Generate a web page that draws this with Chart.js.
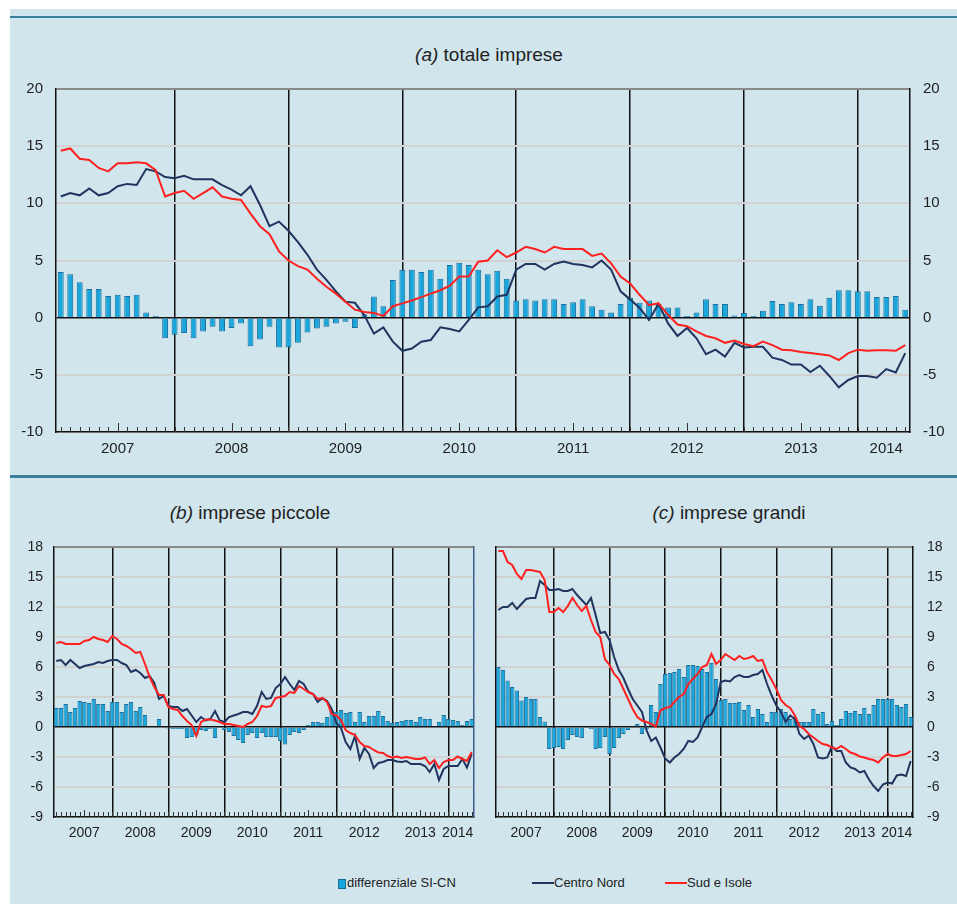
<!DOCTYPE html>
<html>
<head>
<meta charset="utf-8">
<script src="https://cdn.jsdelivr.net/npm/chart.js@4.4.0/dist/chart.umd.min.js"></script>
<style>
  body { margin: 0; background: #fff; }
  #page { position: relative; width: 957px; height: 904px; overflow: hidden; font-family: 'Liberation Sans', Arial, sans-serif; color: #222; }
  #bg { position: absolute; left: 10px; top: 9px; width: 947px; height: 895px; background: #d0e5ec; }
  .rule { position: absolute; left: 10px; width: 947px; background: #3a7f9b; }
  .title { position: absolute; font-size: 19px; white-space: nowrap; transform: translateX(-50%); line-height: 22px; }
  canvas { position: absolute; }
  .leg { position: absolute; font-size: 13px; line-height: 16px; top: 875px; white-space: nowrap; }
  .sw { position: absolute; }
</style>
</head>
<body>
<div id="page">
  <div id="bg"></div>
  <div class="rule" style="top:16px;height:2px"></div>
  <div class="rule" style="top:475px;height:3px"></div>

  <div class="title" style="left:489px;top:44px"><i>(a)</i> totale imprese</div>
  <div class="title" style="left:250px;top:502px"><i>(b)</i> imprese piccole</div>
  <div class="title" style="left:729px;top:502px"><i>(c)</i> imprese grandi</div>

  <canvas id="chartA" width="947" height="392" style="left:10px;top:78px"></canvas>
  <canvas id="chartB" width="475" height="320" style="left:10px;top:535px"></canvas>
  <canvas id="chartC" width="472" height="320" style="left:485px;top:535px"></canvas>

  <div class="sw" style="left:338px;top:879px;width:6px;height:8px;background:#19a6dc;border:1px solid #1c6f99"></div>
  <div class="leg" style="left:347px">differenziale SI-CN</div>
  <div class="sw" style="left:532px;top:882px;width:22px;height:2px;background:#1f3560"></div>
  <div class="leg" style="left:554px">Centro Nord</div>
  <div class="sw" style="left:665px;top:882px;width:22px;height:2px;background:#ff2020"></div>
  <div class="leg" style="left:687px">Sud e Isole</div>
</div>

<script>
const years = ['2007', '2008', '2009', '2010', '2011', '2012', '2013', '2014'];
const monthNames = ['gen', 'feb', 'mar', 'apr', 'mag', 'giu', 'lug', 'ago', 'set', 'ott', 'nov', 'dic'];
const lastYearMonths = 6; // 2014: gen-giu

const categories = [];
years.forEach((y, k) => {
  const n = k === years.length - 1 ? lastYearMonths : 12;
  for (let m = 0; m < n; m++) categories.push(monthNames[m] + ' ' + y);
});

// (a) totale imprese
const aDiff = [4.0, 3.8, 3.1, 2.5, 2.5, 1.9, 2.0, 1.9, 2.0, 0.45, 0.15, -1.8,
  -1.5, -1.35, -1.8, -1.2, -0.8, -1.2, -0.9, -0.5, -2.5, -1.9, -0.8, -2.6,
  -2.6, -2.2, -1.3, -0.95, -0.8, -0.5, -0.35, -0.9, 0.3, 1.85, 1.0, 3.3,
  4.2, 4.2, 4.0, 4.2, 3.4, 4.6, 4.8, 4.6, 4.2, 3.8, 4.1, 3.4,
  1.5, 1.6, 1.5, 1.6, 1.6, 1.2, 1.35, 1.6, 1.0, 0.7, 0.45, 1.2,
  1.75, 1.3, 1.5, 1.2, 0.9, 0.9, 0.15, 0.45, 1.6, 1.2, 1.2, 0.2,
  0.4, 0.15, 0.6, 1.45, 1.2, 1.35, 1.2, 1.6, 1.05, 1.75, 2.4, 2.4,
  2.3, 2.3, 1.8, 1.8, 1.9, 0.7];
const aCN = [10.6, 10.9, 10.7, 11.3, 10.7, 10.9, 11.5, 11.7, 11.6, 13.0, 12.8, 12.3,
  12.2, 12.4, 12.1, 12.1, 12.1, 11.6, 11.2, 10.7, 11.5, 9.85, 8.0, 8.4,
  7.6, 6.6, 5.5, 4.2, 3.3, 2.3, 1.4, 1.3, 0.2, -1.4, -0.85, -2.1,
  -2.9, -2.7, -2.1, -1.95, -0.85, -1.0, -1.2, -0.2, 0.9, 1.0, 1.85, 2.0,
  4.2, 4.7, 4.7, 4.2, 4.7, 4.9, 4.7, 4.6, 4.4, 5.0, 4.2, 2.3,
  1.6, 0.85, -0.2, 1.2, -0.5, -1.6, -0.9, -1.8, -3.2, -2.8, -3.4, -2.2,
  -2.6, -2.55, -2.55, -3.5, -3.7, -4.1, -4.1, -4.75, -4.2, -5.1, -6.1, -5.45,
  -5.1, -5.1, -5.25, -4.5, -4.8, -3.1];
const aSI = [14.6, 14.8, 13.9, 13.8, 13.1, 12.8, 13.5, 13.5, 13.6, 13.5, 12.9, 10.6,
  10.9, 11.1, 10.4, 10.9, 11.4, 10.6, 10.4, 10.3, 9.1, 8.0, 7.3, 5.8,
  5.0, 4.5, 4.2, 3.4, 2.7, 2.1, 1.4, 0.7, 0.5, 0.4, 0.15, 1.0,
  1.25, 1.5, 1.8, 2.1, 2.4, 2.8, 3.6, 3.6, 4.9, 5.0, 5.9, 5.3,
  5.7, 6.2, 6.0, 5.7, 6.2, 6.0, 6.0, 6.0, 5.4, 5.6, 4.75, 3.6,
  3.0, 2.0, 1.1, 1.25, 0.25, -0.6, -0.75, -1.2, -1.6, -1.8, -2.2, -2.0,
  -2.3, -2.5, -2.1, -2.4, -2.8, -2.85, -3.0, -3.1, -3.2, -3.3, -3.7, -3.1,
  -2.8, -2.9, -2.85, -2.85, -2.9, -2.4];

// (b) imprese piccole
const bDiff = [1.9, 1.9, 2.3, 1.5, 1.9, 2.6, 2.5, 2.4, 2.8, 2.3, 2.3, 1.6,
  2.5, 2.5, 1.5, 2.3, 2.5, 1.6, 2.0, 1.2, 0.0, 0.0, 0.8, 0.0,
  -0.15, -0.2, -0.2, -0.2, -1.1, -1.0, -0.8, -0.3, -0.4, -0.2, -1.1, -0.1,
  -0.3, -0.5, -0.9, -1.3, -1.6, -0.8, -0.6, -1.1, -0.6, -1.0, -1.0, -1.0,
  -1.4, -1.75, -0.8, -0.5, -0.6, -0.3, 0.2, 0.5, 0.5, 0.4, 1.0, 1.6,
  1.5, 1.7, 1.4, 1.5, 0.5, 1.5, 0.5, 1.1, 1.1, 1.6, 1.1, 0.6,
  0.4, 0.5, 0.6, 0.7, 0.7, 0.5, 1.0, 0.8, 0.8, 0.1, 0.5, 1.2,
  0.8, 0.7, 0.6, 0.2, 0.6, 0.8];
const bCN = [6.6, 6.7, 6.2, 6.7, 6.3, 5.9, 6.1, 6.2, 6.3, 6.5, 6.4, 6.6,
  6.7, 6.7, 6.4, 6.2, 5.5, 5.7, 5.4, 4.9, 5.1, 4.4, 2.8, 3.1,
  2.1, 2.0, 2.0, 1.6, 1.8, 1.15, 0.5, 1.0, 0.65, 0.8, 1.6, 0.65,
  0.5, 1.0, 1.15, 1.3, 1.5, 1.5, 1.3, 2.1, 3.5, 2.8, 2.9, 3.9,
  4.3, 5.0, 4.3, 3.7, 4.6, 4.3, 3.5, 3.3, 2.5, 2.9, 2.6, 1.8,
  0.4, -0.1, -1.5, -2.2, -0.9, -3.2, -2.1, -2.7, -4.1, -3.6, -3.5, -3.3,
  -3.3, -3.45, -3.5, -3.4, -3.7, -3.7, -3.7, -3.9, -4.5, -3.7, -5.3, -4.2,
  -3.9, -3.9, -3.9, -3.2, -4.05, -2.7];
const bSI = [8.4, 8.5, 8.3, 8.3, 8.3, 8.3, 8.6, 8.7, 9.0, 8.8, 8.7, 8.5,
  9.1, 8.8, 8.3, 8.1, 7.8, 7.4, 7.5, 6.3, 5.0, 4.0, 3.2, 3.2,
  2.0, 1.8, 1.7, 1.1, 0.6, 0.2, -0.9, 0.5, 0.75, 0.75, 0.65, 0.5,
  0.3, 0.3, 0.2, 0.1, 0.0, 0.3, 0.5, 1.1, 2.1, 2.0, 2.1, 2.9,
  3.0, 3.1, 3.5, 3.4, 4.1, 3.8, 3.5, 3.3, 2.8, 2.9, 2.5, 1.3,
  1.15, 0.7, -0.3, -0.6, -0.8, -1.5, -1.9, -2.0, -2.3, -2.55, -2.6, -2.9,
  -3.05, -2.95, -3.1, -3.0, -3.1, -3.2, -3.2, -3.05, -3.7, -3.3, -4.1, -3.5,
  -3.3, -3.3, -2.95, -3.2, -3.4, -2.5];

// (c) imprese grandi
const cDiff = [6.0, 5.7, 4.65, 4.0, 3.65, 2.65, 3.0, 2.8, 2.8, 1.0, 0.55, -2.2,
  -2.1, -2.0, -2.2, -1.3, -0.8, -1.0, -1.1, 0.1, -0.2, -2.2, -2.1, -1.0,
  -2.7, -2.1, -1.1, -0.7, -0.3, -0.1, 0.3, -0.7, -0.2, 2.2, 1.5, 4.3,
  5.3, 5.4, 5.5, 5.8, 5.0, 6.2, 6.2, 6.1, 5.8, 5.5, 6.4, 4.8,
  2.7, 2.8, 2.4, 2.4, 2.5, 1.7, 2.2, 1.0, 1.8, 1.3, 0.5, 1.5,
  1.5, 1.8, 1.5, 0.8, 1.0, 0.5, 0.5, 0.5, 1.8, 1.3, 1.5, 0.3,
  0.6, 0.2, 0.8, 1.6, 1.4, 1.6, 1.3, 1.9, 1.3, 2.2, 2.8, 2.8,
  2.8, 2.8, 2.2, 2.0, 2.3, 1.0];
const cCN = [11.7, 12.0, 12.0, 12.4, 11.8, 12.3, 12.8, 12.9, 12.9, 14.6, 14.2, 13.7,
  13.7, 13.8, 13.6, 13.6, 13.8, 13.2, 12.7, 12.2, 12.9, 11.2, 9.4, 9.5,
  8.7, 7.0, 5.7, 4.9, 3.8, 2.8, 2.15, 1.5, -0.35, -1.4, -1.05, -2.05,
  -3.15, -3.55, -3.05, -2.7, -2.2, -1.4, -1.5, -1.05, 0.0, 1.0, 1.3, 2.3,
  4.5, 4.65, 4.55, 5.0, 5.2, 5.0, 5.0, 5.2, 5.3, 5.7, 4.3, 3.15,
  2.15, 1.5, 0.5, 1.15, 0.8, -0.7, -1.2, -0.85, -1.7, -3.05, -3.15, -3.05,
  -1.95, -2.4, -2.4, -3.55, -4.05, -4.2, -4.55, -4.4, -5.25, -5.9, -6.4, -5.75,
  -5.55, -5.65, -4.85, -4.75, -4.9, -3.4];
const cSI = [17.6, 17.6, 16.5, 16.2, 15.3, 14.8, 15.7, 15.7, 15.6, 15.5, 14.7, 11.5,
  11.5, 11.9, 11.5, 12.1, 12.9, 12.2, 11.6, 12.1, 10.7, 9.5, 9.0, 6.8,
  6.2, 5.3, 4.8, 3.8, 2.8, 1.8, 1.0, 0.65, 0.5, 0.3, 0.05, 1.65,
  1.9, 2.0, 2.5, 3.0, 3.3, 4.3, 4.8, 5.3, 6.0, 6.2, 7.3, 6.3,
  6.7, 7.3, 7.0, 6.7, 7.1, 6.8, 6.9, 7.1, 6.6, 6.7, 5.5, 4.7,
  3.8, 2.7, 2.2, 1.9, 1.15, 0.1, -0.2, -0.7, -1.05, -1.4, -1.7, -1.8,
  -2.05, -2.2, -1.9, -2.2, -2.55, -2.7, -2.95, -3.05, -3.2, -3.3, -3.55, -3.05,
  -2.7, -2.9, -2.9, -2.8, -2.7, -2.4];

Chart.defaults.font.family = "'Liberation Sans', Arial, sans-serif";
Chart.defaults.color = '#222';

const BAR_FILL = '#19a6dc';
const BAR_EDGE = '#1c6f99';
const NAVY = '#1f3560';
const RED = '#ff2020';
const CLEAR = 'rgba(0,0,0,0)';

// small month ticks drawn upward from the bottom axis
const monthTicks = {
  id: 'monthTicks',
  beforeDatasetsDraw(chart, args, opts) {
    const x = chart.scales.x;
    const bottom = chart.chartArea.bottom;
    const c = chart.ctx;
    c.save();
    c.strokeStyle = '#333';
    c.lineWidth = 1;
    x.ticks.forEach((t, i) => {
      const px = Math.round(x.getPixelForTick(i)) + 0.5;
      const len = i % 12 === 6 ? opts.long : opts.short;
      c.beginPath();
      c.moveTo(px, bottom);
      c.lineTo(px, bottom - len);
      c.stroke();
    });
    c.restore();
  }
};

function yearLabel(i, lastIdx) {
  if (i % 12 === 6 || i === lastIdx) return years[Math.floor(i / 12)];
  return '';
}

function makeChart(id, o) {
  const scales = {
    x: {
      offset: true,
      grid: {
        offset: false,
        drawTicks: false,
        color: ctx => (ctx.index > 0 && ctx.index % 12 === 0) ? '#111' : CLEAR,
        lineWidth: 1.5
      },
      border: { color: '#111', width: 1.5 },
      ticks: {
        autoSkip: false, maxRotation: 0, minRotation: 0, padding: 8,
        font: { size: o.tickSize },
        callback: (v, i) => yearLabel(i, o.lastLabel)
      },
      afterFit: s => { s.height = o.xHeight; }
    }
  };
  const tickOpts = { stepSize: o.step, padding: 0, font: { size: o.tickSize } };
  scales.y = {
    position: o.leftTicks ? 'left' : 'right',
    min: o.min, max: o.max,
    ticks: tickOpts,
    grid: {
      drawTicks: true,
      tickLength: o.leftTicks ? o.padL : o.padR,
      tickColor: CLEAR,
      color: ctx => ctx.tick.value === 0 ? '#111' : (ctx.tick.value === o.max ? '#8a8a8a' : '#d2d2d2'),
      lineWidth: ctx => ctx.tick.value === 0 ? 1.5 : 2
    },
    border: { color: '#111', width: 1.5 },
    afterFit: s => { s.width = o.leftTicks ? o.wL : o.wR; }
  };
  scales.y2 = {
    position: o.leftTicks ? 'right' : 'left',
    min: o.min, max: o.max,
    ticks: Object.assign({ display: o.otherTicks }, tickOpts),
    grid: { drawOnChartArea: false, drawTicks: true, tickLength: o.leftTicks ? o.padR : o.padL, tickColor: CLEAR },
    border: { color: o.otherColor, width: 1.5 },
    afterFit: s => { s.width = o.leftTicks ? o.wR : o.wL; }
  };
  return new Chart(document.getElementById(id), {
    type: 'bar',
    data: {
      labels: categories,
      datasets: [
        { type: 'line', label: 'Sud e Isole', data: o.si, borderColor: RED, borderWidth: 2, pointRadius: 0, tension: 0, order: 0 },
        { type: 'line', label: 'Centro Nord', data: o.cn, borderColor: NAVY, borderWidth: 2, pointRadius: 0, tension: 0, order: 1 },
        { type: 'bar', label: 'differenziale SI-CN', data: o.diff, backgroundColor: BAR_FILL, borderColor: BAR_EDGE,
          borderWidth: 1, barPercentage: o.barPct, categoryPercentage: 1, order: 2 }
      ]
    },
    options: {
      responsive: false,
      animation: false,
      layout: { padding: { top: o.padTop, left: 0, right: 0, bottom: 0 } },
      plugins: { legend: { display: false }, tooltip: { enabled: false }, monthTicks: { short: o.tickShort, long: o.tickLong } },
      scales: scales
    },
    plugins: [monthTicks]
  });
}

makeChart('chartA', {
  diff: aDiff, cn: aCN, si: aSI, min: -10, max: 20, step: 5, tickSize: 15,
  leftTicks: true, padL: 13, padR: 13, wL: 46, wR: 47, otherTicks: true, otherColor: '#111',
  padTop: 11, xHeight: 38, barPct: 0.62, tickShort: 5, tickLong: 9, lastLabel: 87
});

makeChart('chartB', {
  diff: bDiff, cn: bCN, si: bSI, min: -9, max: 18, step: 3, tickSize: 14,
  leftTicks: true, padL: 11, padR: 0, wL: 44, wR: 11, otherTicks: false, otherColor: '#3d5d8f',
  padTop: 12, xHeight: 38, barPct: 0.95, tickShort: 5, tickLong: 7, lastLabel: 86
});

makeChart('chartC', {
  diff: cDiff, cn: cCN, si: cSI, min: -9, max: 18, step: 3, tickSize: 14,
  leftTicks: false, padL: 0, padR: 14, wL: 11, wR: 44, otherTicks: false, otherColor: '#111',
  padTop: 12, xHeight: 38, barPct: 0.95, tickShort: 5, tickLong: 7, lastLabel: 86
});
</script>
</body>
</html>
